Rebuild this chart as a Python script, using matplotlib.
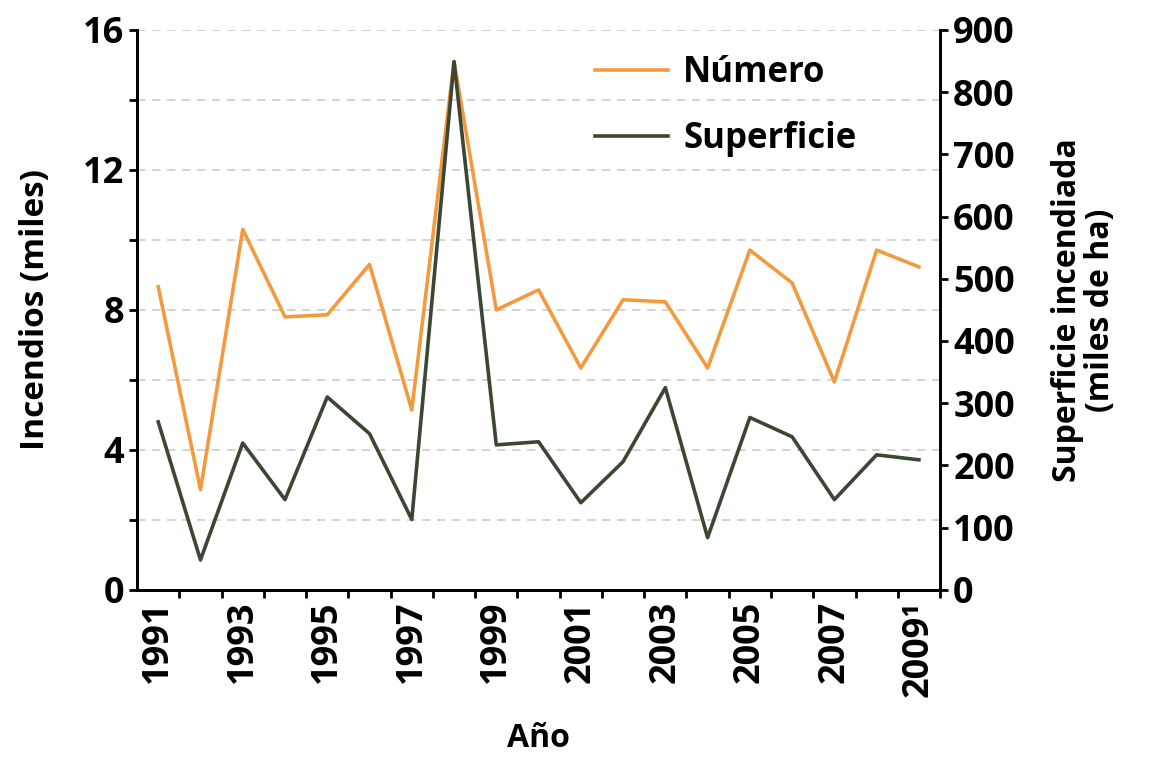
import numpy as np
import matplotlib.pyplot as plt
from matplotlib.ticker import MultipleLocator, FixedLocator

years = list(range(1991, 2010))
numero = [8.66, 2.86, 10.3, 7.8, 7.86, 9.3, 5.14, 15.1, 8.0, 8.57,
          6.34, 8.29, 8.23, 6.34, 9.71, 8.77, 5.94, 9.71, 9.23]
superficie = [270, 48, 236, 145, 310, 251, 113, 849, 233, 238,
              140, 206, 325, 84, 277, 246, 145, 217, 209]
label_years = list(range(1991, 2010, 2))
year_labels = [str(y) for y in label_years[:-1]] + ['2009¹']

plt.rcParams['font.family'] = ['Open Sans', 'DejaVu Sans']
plt.rcParams['font.weight'] = 'bold'
plt.rcParams['axes.labelweight'] = 'bold'

orange = '#f39a3f'
green = '#3a4733'

fig = plt.figure(figsize=(11.52, 7.68), dpi=100)
ax = fig.add_axes([0.119, 0.232, 0.697, 0.729])
ax2 = ax.twinx()

l1, = ax.plot(years, numero, color=orange, lw=2.6, label='Número')
l2, = ax2.plot(years, superficie, color=green, lw=2.6, label='Superficie')

ax.set_xlim(1990.5, 2009.5)
ax.set_ylim(0, 16)
ax2.set_ylim(0, 900)

ax.set_yticks([0, 4, 8, 12, 16])
ax.yaxis.set_minor_locator(MultipleLocator(2))
ax2.set_yticks(range(0, 1000, 100))

ax.set_xticks(label_years)
ax.set_xticklabels(year_labels, rotation=90)
ax.xaxis.set_minor_locator(FixedLocator(np.arange(1991.5, 2010, 1)))
ax.tick_params(axis='x', which='major', length=0, pad=8)
ax.tick_params(axis='x', which='minor', length=6, width=2, direction='out')
ax.tick_params(axis='y', which='both', length=6, width=2)
ax.tick_params(labelsize=26)
ax2.tick_params(labelsize=26, length=6, width=2)

ax.grid(axis='y', which='both', color='#cccccc', linestyle=(0, (5, 4)), lw=1.2)
ax.set_axisbelow(True)

for a in (ax, ax2):
    a.spines['top'].set_visible(False)
    for s in ('left', 'right', 'bottom'):
        a.spines[s].set_linewidth(2)

ax.set_ylabel('Incendios (miles)', fontsize=24, labelpad=22)
ax2.set_ylabel('Superficie incendiada\n(miles de ha)', fontsize=23,
               labelpad=26, linespacing=1.0)
ax.set_xlabel('Año', fontsize=23, labelpad=18)

ax2.legend(handles=[l1, l2], loc='upper left', bbox_to_anchor=(0.570, 0.955),
           borderaxespad=0, borderpad=0, frameon=False, fontsize=25,
           handlelength=2.1, handletextpad=0.45, labelspacing=0.85)

fig.savefig('out.png', dpi=100)
